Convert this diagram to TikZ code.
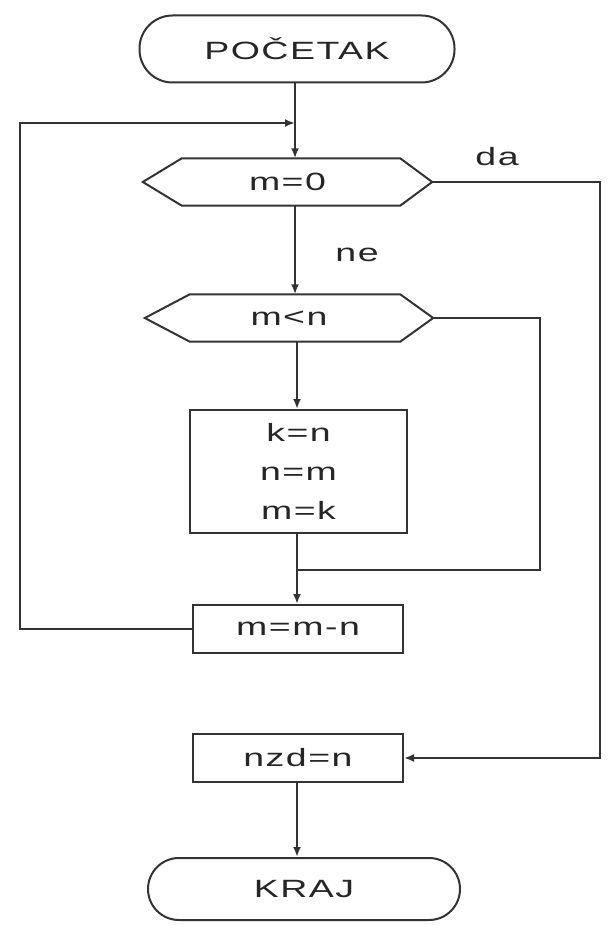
\documentclass[tikz,border=0pt]{standalone}
\usepackage{fontspec}
\setmainfont{Liberation Sans}[FakeStretch=1.5,LetterSpace=6]
\usetikzlibrary{arrows.meta}
\begin{document}
\begin{tikzpicture}[x=1pt,y=-1pt,
  every node/.style={font=\fontsize{25}{39}\selectfont, text=black!85},
  ln/.style={draw=black!80, line width=2pt},
  arr/.style={ln, -{Latex[length=10pt,width=8pt]}},
  term/.style={ln, rounded corners=33pt, minimum height=67pt, inner sep=0pt},
  procbox/.style={ln, minimum width=210pt, minimum height=48pt, inner sep=0pt},
  hexnode/.style={draw=none, inner sep=0pt, minimum height=47pt}]
\useasboundingbox (0,0) rectangle (609,925);

% nodes
\node[term, minimum width=315pt] (start) at (297,49) {POČETAK};
\node[hexnode, minimum width=289pt] (h1) at (287.5,182) {m=0};
\node[hexnode, minimum width=288pt] (h2) at (289,318) {m<n};
\node[ln, minimum width=217pt, minimum height=123pt, align=center, inner sep=0pt] (b1) at (298.5,471.5) {k=n\\n=m\\m=k};
\node[procbox] (b2) at (298,629) {m=m-n};
\node[procbox] (b3) at (298,758) {nzd=n};
\node[term, minimum width=312pt, minimum height=62pt, rounded corners=31pt] (end) at (304,889) {KRAJ};

% hexagon outlines
\draw[ln] (h1.west) -- ([xshift=39pt]h1.north west) -- ([xshift=-32pt]h1.north east) -- (h1.east)
  -- ([xshift=-32pt]h1.south east) -- ([xshift=39pt]h1.south west) -- cycle;
\draw[ln] (h2.west) -- ([xshift=45pt]h2.north west) -- ([xshift=-33pt]h2.north east) -- (h2.east)
  -- ([xshift=-33pt]h2.south east) -- ([xshift=45pt]h2.south west) -- cycle;

% labels
\node (da) at (497,157) {da};
\node (ne) at (357,255) {ne};

% helper coordinates
\coordinate (J1) at (295,123);
\coordinate (LC) at (20,123);
\coordinate (RC) at (600,182);
\coordinate (R2) at (540,570);
\coordinate (M) at (297,570);

% connectors
\draw[ln] (J1 |- start.south) -- (J1);
\draw[arr] (J1) -- (J1 |- h1.north);
\draw[arr] (J1 |- h1.south) -- (J1 |- h2.north);
\draw[arr] (M |- h2.south) -- (M |- b1.north);
\draw[ln] (h2.east) -| (R2) -- (M);
\draw[ln] (M |- b1.south) -- (M);
\draw[arr] (M) -- (M |- b2.north);
\draw[arr] (b2.west) -| (LC) -- (J1);
\draw[arr] (h1.east) -- (RC) |- (b3.east);
\draw[arr] (M |- b3.south) -- (M |- end.north);
\end{tikzpicture}
\end{document}
